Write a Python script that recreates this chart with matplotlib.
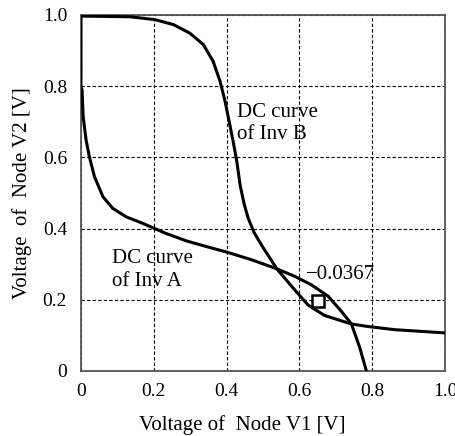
import numpy as np
import matplotlib
matplotlib.use("Agg")
import matplotlib.pyplot as plt

# curve through the left side (Inv A), continues over the upper side of the eye
a_x = [0.0, 0.0, 0.003, 0.006, 0.014, 0.023, 0.037, 0.06, 0.087, 0.124,
       0.169, 0.232, 0.291, 0.35, 0.404, 0.47, 0.538, 0.587, 0.633, 0.679,
       0.715, 0.743, 0.766, 0.784]
a_y = [1.0, 0.80, 0.789, 0.714, 0.649, 0.602, 0.546, 0.49, 0.457, 0.433,
       0.415, 0.387, 0.365, 0.348, 0.333, 0.312, 0.287, 0.266, 0.242, 0.21,
       0.168, 0.132, 0.065, 0.0]

# steep curve (Inv B), continues under the eye into the flat tail
b_x = [0.0, 0.135, 0.203, 0.254, 0.299, 0.336, 0.363, 0.382, 0.396, 0.407,
       0.418, 0.428, 0.437, 0.448, 0.459, 0.475, 0.495, 0.538, 0.587, 0.624,
       0.669, 0.743, 0.788, 0.862, 1.0]
b_y = [0.997, 0.995, 0.987, 0.973, 0.949, 0.917, 0.870, 0.814, 0.757, 0.701,
       0.645, 0.589, 0.523, 0.47, 0.43, 0.39, 0.355, 0.287, 0.228, 0.185,
       0.156, 0.132, 0.125, 0.116, 0.107]

marker_x, marker_y = 0.651, 0.197
ticks = [0, 0.2, 0.4, 0.6, 0.8, 1.0]
tick_labels = ['0', '0.2', '0.4', '0.6', '0.8', '1.0']

plt.rcParams['font.family'] = ['Liberation Serif', 'DejaVu Serif']

fig = plt.figure(figsize=(4.56, 4.36), dpi=100)
ax = fig.add_axes([0.1776, 0.1491, 0.7983, 0.8165])

ax.plot(a_x, a_y, color='black', lw=2.2, solid_joinstyle='round', zorder=3)
ax.plot(b_x, b_y, color='black', lw=2.2, solid_joinstyle='round', zorder=3)
ax.plot([marker_x], [marker_y], marker='s', ms=9, mfc='white', mec='black',
        mew=1.8, zorder=4)

ax.text(0.618, 0.272, '\u22120.0367', fontsize=15, va='center', ha='left')
ax.text(0.428, 0.695, 'DC curve\nof Inv B', fontsize=15, va='center',
        ha='left', linespacing=1.25)
ax.text(0.085, 0.284, 'DC curve\nof Inv A', fontsize=15, va='center',
        ha='left', linespacing=1.25)

ax.set_xlim(0, 1)
ax.set_ylim(0, 1)
ax.set_xticks(ticks)
ax.set_xticklabels(tick_labels)
ax.set_yticks(ticks)
ax.set_yticklabels(tick_labels)
ax.tick_params(length=0, labelsize=14)
ax.tick_params(axis='x', pad=9)
ax.tick_params(axis='y', pad=10)
ax.grid(True, color='black', linestyle=(0, (3, 2)), lw=0.8)
for s in ax.spines.values():
    s.set_color('#555555')
    s.set_linewidth(1.3)

ax.set_xlabel('Voltage of  Node V1 [V]', fontsize=15)
ax.set_ylabel('Voltage  of  Node V2 [V]', fontsize=15)
ax.xaxis.set_label_coords(0.442, -0.125)
ax.yaxis.set_label_coords(-0.135, 0.5)

fig.savefig('out.png', dpi=100)
